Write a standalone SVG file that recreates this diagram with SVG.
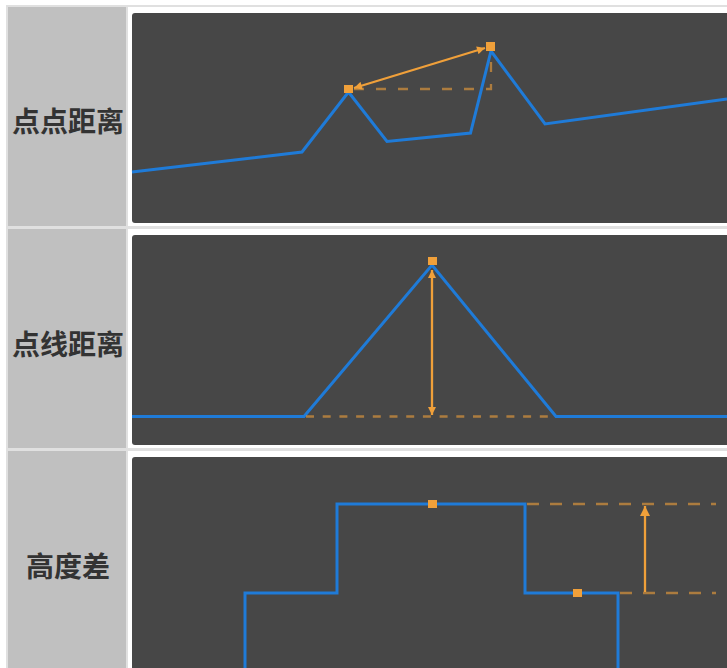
<svg xmlns="http://www.w3.org/2000/svg" width="727" height="668" viewBox="0 0 727 668">
<defs>
<style>
.lab{font-family:"Noto Sans CJK SC","Noto Sans",sans-serif;font-weight:bold;font-size:28px;fill:#333333;text-anchor:middle}
.cell{fill:#c0c0c0}
.panel{fill:#474747}
.curve{fill:none;stroke:#1f7bd8;stroke-width:3;stroke-linejoin:miter}
.meas{fill:none;stroke:#f0a03a;stroke-width:2.3}
.dash{fill:none;stroke:#f0a03a;stroke-opacity:0.6;stroke-width:2.3}
.pt{fill:#f0a03a}
</style>
<marker id="ah" viewBox="0 0 10 10" refX="10" refY="5" markerWidth="9" markerHeight="8" markerUnits="userSpaceOnUse" orient="auto-start-reverse">
<path d="M0,0 L10,5 L0,10 z" fill="#f0a03a"/>
</marker>
<marker id="ahBig" viewBox="0 0 10 10" refX="10" refY="5" markerWidth="10" markerHeight="13" markerUnits="userSpaceOnUse" orient="auto-start-reverse">
<path d="M0,0 L10,5 L0,10 z" fill="#f0a03a"/>
</marker>
</defs>
<rect x="0" y="0" width="727" height="668" fill="#ffffff"/>
<rect x="6" y="5" width="721" height="663" fill="#e0e0e0"/>
<g id="row1">
<rect class="cell" x="8" y="7" width="118" height="219"/>
<rect x="128" y="7" width="599" height="219" fill="#ffffff"/>
<rect class="panel" x="132" y="13" width="610" height="210" rx="3"/>
<text class="lab" x="68" y="132">点点距离</text>
</g>
<g id="row2">
<rect class="cell" x="8" y="229" width="118" height="219"/>
<rect x="128" y="229" width="599" height="219" fill="#ffffff"/>
<rect class="panel" x="132" y="235" width="610" height="210" rx="3"/>
<text class="lab" x="68" y="354.5">点线距离</text>
</g>
<g id="row3">
<rect class="cell" x="8" y="451" width="118" height="230"/>
<rect x="128" y="451" width="599" height="230" fill="#ffffff"/>
<rect class="panel" x="132" y="457" width="610" height="230" rx="3"/>
<text class="lab" x="68" y="576.5">高度差</text>
</g>
<g id="plot1">
<polyline class="curve" points="132,172 302,152 348.5,92 387,141.5 470.5,133 491,51 545,124 727,99"/>
<polyline class="dash" points="354,89 491,89 491,52" stroke-dasharray="10 12"/>
<line class="meas" x1="354" y1="88" x2="485" y2="48" marker-start="url(#ah)" marker-end="url(#ah)"/>
<rect class="pt" x="344" y="85" width="9" height="8"/>
<rect class="pt" x="486" y="42" width="9" height="9"/>
</g>
<g id="plot2">
<polyline class="curve" points="132,416.5 304,416.5 432,265 556,416.5 727,416.5"/>
<line class="dash" x1="306" y1="416.5" x2="554" y2="416.5" stroke-dasharray="8 8.7"/>
<line class="meas" x1="432" y1="270" x2="432" y2="415" marker-start="url(#ah)" marker-end="url(#ah)"/>
<rect class="pt" x="428" y="257" width="9" height="8"/>
</g>
<g id="plot3">
<polyline class="curve" points="245,668 245,593 337,593 337,504 525,504 525,593 618,593 618,668"/>
<line class="dash" x1="527" y1="504" x2="716" y2="504" stroke-dasharray="12 11"/>
<line class="dash" x1="620" y1="593" x2="716" y2="593" stroke-dasharray="12 11"/>
<line class="meas" x1="645" y1="592" x2="645" y2="506" marker-end="url(#ahBig)"/>
<rect class="pt" x="428" y="500" width="9" height="8"/>
<rect class="pt" x="573" y="589" width="9" height="8"/>
</g>
</svg>
